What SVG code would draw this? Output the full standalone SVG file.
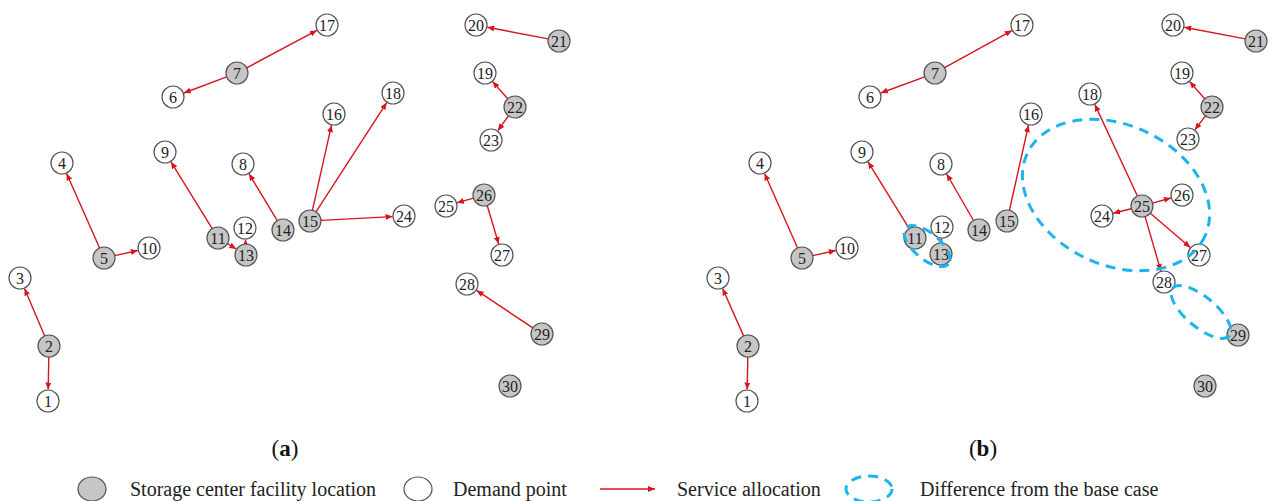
<svg xmlns="http://www.w3.org/2000/svg" width="1272" height="501" viewBox="0 0 1272 501">
<style>
.fac{fill:#c6c6c6;stroke:#555;stroke-width:1.2}
.dem{fill:#fff;stroke:#555;stroke-width:1.2}
.lbl{font-family:"Liberation Serif","Times New Roman",serif;font-size:16px;fill:#222;text-anchor:middle}
.e{stroke:#d8141c;stroke-width:1.4;fill:none;marker-end:url(#ah)}
.diff{fill:none;stroke:#1cb4ee;stroke-width:3;stroke-dasharray:10 7}
.leg{font-family:"Liberation Serif","Times New Roman",serif;font-size:20px;fill:#222}
.cap{font-family:"Liberation Serif","Times New Roman",serif;font-size:23px;fill:#111;text-anchor:middle}
</style>
<defs>
<marker id="ah" markerUnits="userSpaceOnUse" markerWidth="7" markerHeight="6" refX="7" refY="3" orient="auto">
<path d="M0,0 L7,3 L0,6 z" fill="#d8141c"/>
</marker>
</defs>
<rect width="1272" height="501" fill="#fff"/>

<g id="connectors">
<!-- panel a -->
<line class="e" x1="48.8" y1="357" x2="48.2" y2="389.5"/>
<line class="e" x1="44.7" y1="335.9" x2="24.5" y2="288.6"/>
<line class="e" x1="99.6" y1="248" x2="66.6" y2="173.5"/>
<line class="e" x1="114.7" y1="255.6" x2="137.8" y2="250.5"/>
<line class="e" x1="226.7" y1="76.9" x2="183.8" y2="93"/>
<line class="e" x1="246.7" y1="67.8" x2="316.9" y2="30.4"/>
<line class="e" x1="212.2" y1="228.6" x2="171" y2="161.8"/>
<line class="e" x1="227.4" y1="243.7" x2="236.2" y2="249"/>
<line class="e" x1="245.6" y1="244" x2="245.4" y2="239.5"/>
<line class="e" x1="277.3" y1="220.6" x2="249" y2="173.8"/>
<line class="e" x1="312.4" y1="210.3" x2="331.5" y2="125.2"/>
<line class="e" x1="316" y1="211.8" x2="386.7" y2="102.6"/>
<line class="e" x1="321" y1="220.4" x2="392.5" y2="216.6"/>
<line class="e" x1="548.2" y1="38.9" x2="487.3" y2="27.2"/>
<line class="e" x1="507.7" y1="98.7" x2="492.6" y2="81.6"/>
<line class="e" x1="508.5" y1="115.9" x2="497.8" y2="130.7"/>
<line class="e" x1="473.4" y1="198.1" x2="457" y2="202.8"/>
<line class="e" x1="487.2" y1="205.5" x2="498.7" y2="244"/>
<line class="e" x1="532.8" y1="327.9" x2="476.6" y2="290.4"/>
<!-- panel b -->
<line class="e" x1="747.8" y1="357" x2="747.2" y2="389.5"/>
<line class="e" x1="743.6" y1="335.9" x2="722.6" y2="288.5"/>
<line class="e" x1="797.6" y1="248" x2="764.6" y2="173.5"/>
<line class="e" x1="812.7" y1="255.6" x2="835.8" y2="250.5"/>
<line class="e" x1="924.7" y1="76.8" x2="880.8" y2="93"/>
<line class="e" x1="944.6" y1="67.7" x2="1011.9" y2="30.6"/>
<line class="e" x1="909.2" y1="228.6" x2="868" y2="161.8"/>
<line class="e" x1="941.4" y1="243" x2="941.6" y2="238.5"/>
<line class="e" x1="973.5" y1="220.5" x2="946.7" y2="174"/>
<line class="e" x1="1009.4" y1="210.3" x2="1028.5" y2="125.2"/>
<line class="e" x1="1137.4" y1="196" x2="1094.8" y2="104.4"/>
<line class="e" x1="1131.3" y1="208.7" x2="1113.2" y2="213.2"/>
<line class="e" x1="1152.6" y1="203.1" x2="1170.9" y2="198"/>
<line class="e" x1="1150.3" y1="213.2" x2="1190.3" y2="247.5"/>
<line class="e" x1="1145.1" y1="216.6" x2="1160.8" y2="270.9"/>
<line class="e" x1="1245.2" y1="38.9" x2="1184.3" y2="27.2"/>
<line class="e" x1="1204.7" y1="98.7" x2="1189.6" y2="81.6"/>
<line class="e" x1="1205.4" y1="115.8" x2="1194.9" y2="129.8"/>
</g>

<g id="panel-a">
<g id="a-n1"><circle class="dem" cx="48" cy="401" r="11"/><text class="lbl" x="48" y="406.5">1</text></g>
<g id="a-n2"><circle class="fac" cx="49" cy="346" r="11"/><text class="lbl" x="49" y="351.5">2</text></g>
<g id="a-n3"><circle class="dem" cx="20" cy="278" r="11"/><text class="lbl" x="20" y="283.5">3</text></g>
<g id="a-n4"><circle class="dem" cx="62" cy="163" r="11"/><text class="lbl" x="62" y="168.5">4</text></g>
<g id="a-n5"><circle class="fac" cx="104" cy="258" r="11"/><text class="lbl" x="104" y="263.5">5</text></g>
<g id="a-n6"><circle class="dem" cx="173" cy="97" r="11"/><text class="lbl" x="173" y="102.5">6</text></g>
<g id="a-n7"><circle class="fac" cx="237" cy="73" r="11"/><text class="lbl" x="237" y="78.5">7</text></g>
<g id="a-n8"><circle class="dem" cx="243" cy="164" r="11"/><text class="lbl" x="243" y="169.5">8</text></g>
<g id="a-n9"><circle class="dem" cx="165" cy="152" r="11"/><text class="lbl" x="165" y="157.5">9</text></g>
<g id="a-n10"><circle class="dem" cx="149" cy="248" r="11"/><text class="lbl" x="149" y="253.5">10</text></g>
<g id="a-n11"><circle class="fac" cx="218" cy="238" r="11"/><text class="lbl" x="218" y="243.5">11</text></g>
<g id="a-n12"><circle class="dem" cx="245" cy="228" r="11"/><text class="lbl" x="245" y="233.5">12</text></g>
<g id="a-n13"><circle class="fac" cx="246" cy="255" r="11"/><text class="lbl" x="246" y="260.5">13</text></g>
<g id="a-n14"><circle class="fac" cx="283" cy="230" r="11"/><text class="lbl" x="283" y="235.5">14</text></g>
<g id="a-n15"><circle class="fac" cx="310" cy="221" r="11"/><text class="lbl" x="310" y="226.5">15</text></g>
<g id="a-n16"><circle class="dem" cx="334" cy="114" r="11"/><text class="lbl" x="334" y="119.5">16</text></g>
<g id="a-n17"><circle class="dem" cx="327" cy="25" r="11"/><text class="lbl" x="327" y="30.5">17</text></g>
<g id="a-n18"><circle class="dem" cx="393" cy="93" r="11"/><text class="lbl" x="393" y="98.5">18</text></g>
<g id="a-n19"><circle class="dem" cx="485" cy="73" r="11"/><text class="lbl" x="485" y="78.5">19</text></g>
<g id="a-n20"><circle class="dem" cx="476" cy="25" r="11"/><text class="lbl" x="476" y="30.5">20</text></g>
<g id="a-n21"><circle class="fac" cx="559" cy="41" r="11"/><text class="lbl" x="559" y="46.5">21</text></g>
<g id="a-n22"><circle class="fac" cx="515" cy="107" r="11"/><text class="lbl" x="515" y="112.5">22</text></g>
<g id="a-n23"><circle class="dem" cx="491" cy="140" r="11"/><text class="lbl" x="491" y="145.5">23</text></g>
<g id="a-n24"><circle class="dem" cx="404" cy="216" r="11"/><text class="lbl" x="404" y="221.5">24</text></g>
<g id="a-n25"><circle class="dem" cx="446" cy="206" r="11"/><text class="lbl" x="446" y="211.5">25</text></g>
<g id="a-n26"><circle class="fac" cx="484" cy="195" r="11"/><text class="lbl" x="484" y="200.5">26</text></g>
<g id="a-n27"><circle class="dem" cx="502" cy="255" r="11"/><text class="lbl" x="502" y="260.5">27</text></g>
<g id="a-n28"><circle class="dem" cx="467" cy="284" r="11"/><text class="lbl" x="467" y="289.5">28</text></g>
<g id="a-n29"><circle class="fac" cx="542" cy="334" r="11"/><text class="lbl" x="542" y="339.5">29</text></g>
<g id="a-n30"><circle class="fac" cx="510" cy="386" r="11"/><text class="lbl" x="510" y="391.5">30</text></g>
</g>

<g id="panel-b">
<g id="b-n1"><circle class="dem" cx="747" cy="401" r="11"/><text class="lbl" x="747" y="406.5">1</text></g>
<g id="b-n2"><circle class="fac" cx="748" cy="346" r="11"/><text class="lbl" x="748" y="351.5">2</text></g>
<g id="b-n3"><circle class="dem" cx="718" cy="278" r="11"/><text class="lbl" x="718" y="283.5">3</text></g>
<g id="b-n4"><circle class="dem" cx="760" cy="163" r="11"/><text class="lbl" x="760" y="168.5">4</text></g>
<g id="b-n5"><circle class="fac" cx="802" cy="258" r="11"/><text class="lbl" x="802" y="263.5">5</text></g>
<g id="b-n6"><circle class="dem" cx="870" cy="97" r="11"/><text class="lbl" x="870" y="102.5">6</text></g>
<g id="b-n7"><circle class="fac" cx="935" cy="73" r="11"/><text class="lbl" x="935" y="78.5">7</text></g>
<g id="b-n8"><circle class="dem" cx="941" cy="164" r="11"/><text class="lbl" x="941" y="169.5">8</text></g>
<g id="b-n9"><circle class="dem" cx="862" cy="152" r="11"/><text class="lbl" x="862" y="157.5">9</text></g>
<g id="b-n10"><circle class="dem" cx="847" cy="248" r="11"/><text class="lbl" x="847" y="253.5">10</text></g>
<g id="b-n11"><circle class="fac" cx="915" cy="238" r="11"/><text class="lbl" x="915" y="243.5">11</text></g>
<g id="b-n12"><circle class="dem" cx="942" cy="227" r="11"/><text class="lbl" x="942" y="232.5">12</text></g>
<g id="b-n13"><circle class="fac" cx="941" cy="254" r="11"/><text class="lbl" x="941" y="259.5">13</text></g>
<g id="b-n14"><circle class="fac" cx="979" cy="230" r="11"/><text class="lbl" x="979" y="235.5">14</text></g>
<g id="b-n15"><circle class="fac" cx="1007" cy="221" r="11"/><text class="lbl" x="1007" y="226.5">15</text></g>
<g id="b-n16"><circle class="dem" cx="1031" cy="114" r="11"/><text class="lbl" x="1031" y="119.5">16</text></g>
<g id="b-n17"><circle class="dem" cx="1022" cy="25" r="11"/><text class="lbl" x="1022" y="30.5">17</text></g>
<g id="b-n18"><circle class="dem" cx="1090" cy="94" r="11"/><text class="lbl" x="1090" y="99.5">18</text></g>
<g id="b-n19"><circle class="dem" cx="1182" cy="73" r="11"/><text class="lbl" x="1182" y="78.5">19</text></g>
<g id="b-n20"><circle class="dem" cx="1173" cy="25" r="11"/><text class="lbl" x="1173" y="30.5">20</text></g>
<g id="b-n21"><circle class="fac" cx="1256" cy="41" r="11"/><text class="lbl" x="1256" y="46.5">21</text></g>
<g id="b-n22"><circle class="fac" cx="1212" cy="107" r="11"/><text class="lbl" x="1212" y="112.5">22</text></g>
<g id="b-n23"><circle class="dem" cx="1188" cy="139" r="11"/><text class="lbl" x="1188" y="144.5">23</text></g>
<g id="b-n24"><circle class="dem" cx="1102" cy="216" r="11"/><text class="lbl" x="1102" y="221.5">24</text></g>
<g id="b-n25"><circle class="fac" cx="1142" cy="206" r="11"/><text class="lbl" x="1142" y="211.5">25</text></g>
<g id="b-n26"><circle class="dem" cx="1182" cy="195" r="11"/><text class="lbl" x="1182" y="200.5">26</text></g>
<g id="b-n27"><circle class="dem" cx="1199" cy="255" r="11"/><text class="lbl" x="1199" y="260.5">27</text></g>
<g id="b-n28"><circle class="dem" cx="1164" cy="282" r="11"/><text class="lbl" x="1164" y="287.5">28</text></g>
<g id="b-n29"><circle class="fac" cx="1238" cy="335" r="11"/><text class="lbl" x="1238" y="340.5">29</text></g>
<g id="b-n30"><circle class="fac" cx="1205" cy="386" r="11"/><text class="lbl" x="1205" y="391.5">30</text></g>
</g>

<g id="differences">
<ellipse class="diff" cx="1116" cy="195" rx="98" ry="70" transform="rotate(25 1116 195)"/>
<ellipse class="diff" cx="927" cy="246" rx="28" ry="13" transform="rotate(40 927 246)"/>
<ellipse class="diff" cx="1201" cy="312" rx="37" ry="15" transform="rotate(40 1201 312)"/>
</g>

<g id="captions">
<text class="cap" x="285" y="456">(<tspan font-weight="bold">a</tspan>)</text>
<text class="cap" x="983" y="456">(<tspan font-weight="bold">b</tspan>)</text>
</g>

<g id="legend">
<ellipse class="fac" cx="92" cy="489" rx="14" ry="12"/>
<text class="leg" x="130" y="496">Storage center facility location</text>
<ellipse class="dem" cx="418" cy="489" rx="14" ry="12"/>
<text class="leg" x="453" y="496">Demand point</text>
<line class="e" x1="600" y1="489" x2="655" y2="489"/>
<text class="leg" x="677" y="496">Service allocation</text>
<ellipse class="diff" cx="869" cy="489" rx="23" ry="13" stroke-dasharray="9 9"/>
<text class="leg" x="920" y="496">Difference from the base case</text>
</g>
</svg>
